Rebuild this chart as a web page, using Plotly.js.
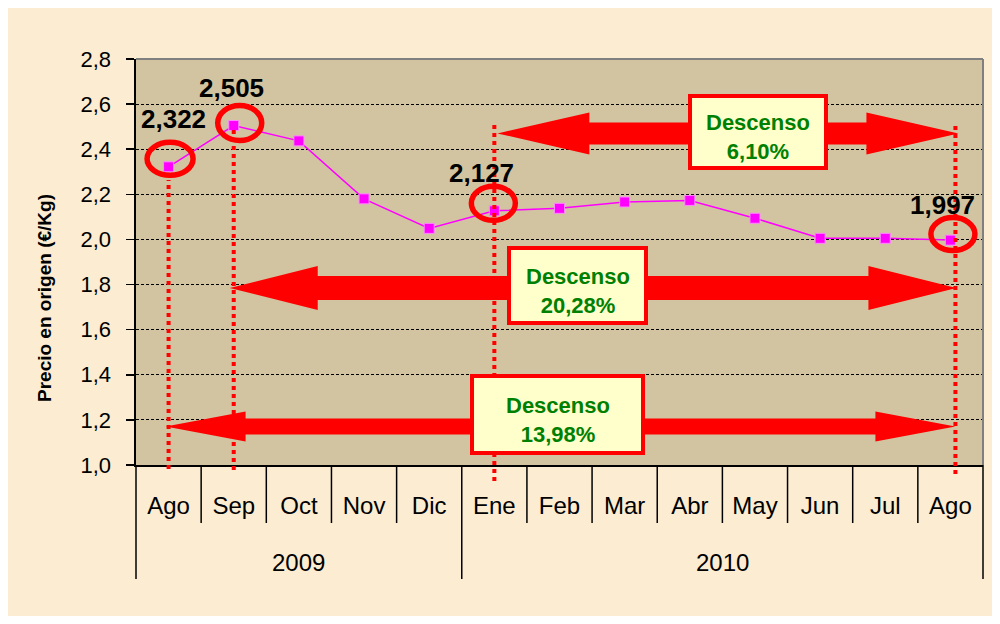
<!DOCTYPE html>
<html>
<head>
<meta charset="utf-8">
<script src="https://cdn.plot.ly/plotly-3.0.1.min.js"></script>
<style>html,body{margin:0;padding:0;background:#fff;}#chart{width:1000px;height:624px;}</style>
</head>
<body>
<div id="chart"></div>
<script>
// ---- data ----
const months = ['Ago','Sep','Oct','Nov','Dic','Ene','Feb','Mar','Abr','May','Jun','Jul','Ago'];
const years = ['2009','2010'];
const yearStart = [0, 5];
const yearEnd = [4, 12];
const prices = [2.322, 2.505, 2.437, 2.180, 2.049, 2.127, 2.138, 2.166, 2.173, 2.094, 2.005, 2.005, 1.997];
const highlighted = [0, 1, 5, 12];
const dropFrom = [5, 1, 0];
const dropTo = [12, 12, 12];
const dropLabel = ['6,10%', '20,28%', '13,98%'];
const dropWord = 'Descenso';
const yTitle = 'Precio en origen (€/Kg)';

// ---- geometry helpers (plot area in px) ----
const L = 136, R = 983, T = 59, B = 465;
const YMIN = 1.0, YMAX = 2.8;
const PX = (R - L) / months.length;         // px per category
const PY = (B - T) / (YMAX - YMIN);         // px per unit
const idx = months.map((m, i) => i);
const py2paper = p => (B - p) / (B - T);
const px2paper = p => (p - L) / (R - L);
const fmt = (v, d) => v.toFixed(d).replace('.', ',');

const FONT = 'Liberation Sans, Arial, sans-serif';
const shapes = [];
const annotations = [];

// white frame around cream background
const WHITE = '#ffffff';
[[0, 8, 0, 624], [992, 1000, 0, 624], [0, 1000, 0, 8], [0, 1000, 616, 624]].forEach(r => {
  shapes.push({type: 'rect', xref: 'paper', yref: 'paper', layer: 'above',
    x0: px2paper(r[0]), x1: px2paper(r[1]), y0: py2paper(r[3]), y1: py2paper(r[2]),
    fillcolor: WHITE, line: {width: 0}});
});

// top & right border (gray)
shapes.push({type: 'line', xref: 'paper', yref: 'paper', x0: 0, x1: 1, y0: 1, y1: 1, line: {color: '#808080', width: 2}, layer: 'above'});
shapes.push({type: 'line', xref: 'paper', yref: 'paper', x0: 1, x1: 1, y0: 0, y1: 1, line: {color: '#808080', width: 2}, layer: 'above'});

// category separators below the axis
for (let k = 0; k <= months.length; k++) {
  const isYear = k === 0 || k === months.length || yearStart.indexOf(k) >= 0;
  shapes.push({type: 'line', xref: 'paper', yref: 'paper',
    x0: k / months.length, x1: k / months.length,
    y0: 0, y1: py2paper(isYear ? 579 : 523),
    line: {color: '#000', width: 1.5}});
}
// year labels
years.forEach((yr, i) => {
  annotations.push({text: yr, xref: 'x', yref: 'paper', x: (yearStart[i] + yearEnd[i]) / 2,
    y: py2paper(562), showarrow: false, yanchor: 'middle',
    font: {family: FONT, size: 24, color: '#000'}});
});

// dotted vertical red lines
const dotCfg = [
  {i: 0, off: 0, top: 180, bot: 469},
  {i: 1, off: 0, top: 130, bot: 470},
  {i: 5, off: 0, top: 125, bot: 481},
  {i: 12, off: 5, top: 125, bot: 474}
];
dotCfg.forEach(d => {
  const x = highlighted[highlighted.indexOf(d.i)] + d.off / PX;
  shapes.push({type: 'line', xref: 'x', yref: 'paper', layer: 'above',
    x0: x, x1: x, y0: py2paper(d.bot), y1: py2paper(d.top),
    line: {color: '#ff0000', width: 4, dash: 'dot'}});
});

// double-headed arrows
const arrowCfg = [
  {y: 2.47, lOff: 3, rOff: 8, head: 92, hh: 21, sh: 11},
  {y: 1.785, lOff: -4, rOff: 6, head: 88, hh: 22, sh: 12},
  {y: 1.171, lOff: -3, rOff: 5, head: 80, hh: 15, sh: 8}
];
function arrowPath(x0, x1, yc, head, hh, sh) {
  const hl = head / PX, h = hh / PY, s = sh / PY;
  const pts = [[x0, yc], [x0 + hl, yc + h], [x0 + hl, yc + s], [x1 - hl, yc + s], [x1 - hl, yc + h],
               [x1, yc], [x1 - hl, yc - h], [x1 - hl, yc - s], [x0 + hl, yc - s], [x0 + hl, yc - h]];
  return 'M' + pts.map(p => p[0].toFixed(4) + ',' + p[1].toFixed(4)).join(' L') + ' Z';
}
arrowCfg.forEach((a, k) => {
  shapes.push({type: 'path', xref: 'x', yref: 'y', layer: 'above',
    path: arrowPath(dropFrom[k] + a.lOff / PX, dropTo[k] + a.rOff / PX, a.y, a.head, a.hh, a.sh),
    fillcolor: '#ff0000', line: {width: 0}});
});

// labelled boxes
const boxCfg = [
  {cx: 758, cy: 132, w: 136, h: 72},
  {cx: 577.5, cy: 285.5, w: 137, h: 75},
  {cx: 557.5, cy: 414.5, w: 171, h: 77}
];
boxCfg.forEach((b, k) => {
  const xc = (b.cx - L) / PX - 0.5, yc = YMIN + (B - b.cy) / PY;
  shapes.push({type: 'rect', xref: 'x', yref: 'y', layer: 'above',
    x0: xc - b.w / 2 / PX, x1: xc + b.w / 2 / PX, y0: yc - b.h / 2 / PY, y1: yc + b.h / 2 / PY,
    fillcolor: '#ffffcc', line: {color: '#ff0000', width: 4}});
  annotations.push({text: '<b>' + dropWord + '<br>' + dropLabel[k] + '</b>', xref: 'x', yref: 'y',
    x: xc, y: yc, yshift: -5, showarrow: false, align: 'center', xanchor: 'center', yanchor: 'middle',
    font: {family: FONT, size: 22, color: '#008000'}});
});

// red ellipses around highlighted points
const circCfg = [
  {dx: 1.5, up: 8, rx: 23, ry: 16.5},
  {dx: 6, up: 2.5, rx: 22, ry: 17.5},
  {dx: -1, up: 7.5, rx: 22, ry: 17},
  {dx: 2.5, up: 6, rx: 22, ry: 16.5}
];
highlighted.forEach((i, k) => {
  const c = circCfg[k];
  const xc = i + c.dx / PX, yc = prices[i] + c.up / PY;
  shapes.push({type: 'circle', xref: 'x', yref: 'y', layer: 'above',
    x0: xc - c.rx / PX, x1: xc + c.rx / PX, y0: yc - c.ry / PY, y1: yc + c.ry / PY,
    line: {color: '#ff0000', width: 5.5}});
});

// value labels
const labelOff = [[5, 48], [-2, 38], [-13, 38], [-8, 35]];
highlighted.forEach((i, k) => {
  annotations.push({text: '<b>' + fmt(prices[i], 3) + '</b>', xref: 'x', yref: 'y', x: i, y: prices[i],
    xshift: labelOff[k][0], yshift: labelOff[k][1], showarrow: false,
    font: {family: FONT, size: 26, color: '#000'}});
});

// y-axis title
annotations.push({text: '<b>' + yTitle + '</b>', xref: 'paper', yref: 'paper',
  x: px2paper(44), y: py2paper(298), textangle: -90, showarrow: false,
  xanchor: 'center', yanchor: 'middle',
  font: {family: FONT, size: 19, color: '#000'}});

const trace = {
  x: idx, y: prices, type: 'scatter', mode: 'lines+markers',
  line: {color: '#ff00ff', width: 1.5},
  marker: {symbol: 'square', size: 10, color: '#ff00ff', line: {color: '#ff88ff', width: 1}},
  hoverinfo: 'skip'
};

const layout = {
  width: 1000, height: 624,
  margin: {l: L, r: 1000 - R, t: T, b: 624 - B, pad: 0},
  paper_bgcolor: '#fbecd2',
  plot_bgcolor: '#d2c4a0',
  separators: ',.',
  showlegend: false,
  xaxis: {
    type: 'linear', range: [-0.5, months.length - 0.5], tickvals: idx, ticktext: months,
    showgrid: false, zeroline: false, ticks: '', showline: true, linecolor: '#000', linewidth: 2,
    tickfont: {family: FONT, size: 24, color: '#000'}, ticklabelstandoff: 18, fixedrange: true
  },
  yaxis: {
    range: [YMIN, YMAX], tick0: YMIN, dtick: 0.2, tickformat: '.1f',
    showgrid: true, gridcolor: '#000', gridwidth: 1, griddash: '3px,2px', zeroline: false,
    ticks: 'outside', ticklen: 8, tickwidth: 1.5, tickcolor: '#000',
    showline: true, linecolor: '#000', linewidth: 2.5,
    tickfont: {family: FONT, size: 22, color: '#000'}, ticklabelstandoff: 10, fixedrange: true
  },
  shapes: shapes,
  annotations: annotations
};

Plotly.newPlot('chart', [trace], layout, {displayModeBar: false, staticPlot: true});
</script>
</body>
</html>
